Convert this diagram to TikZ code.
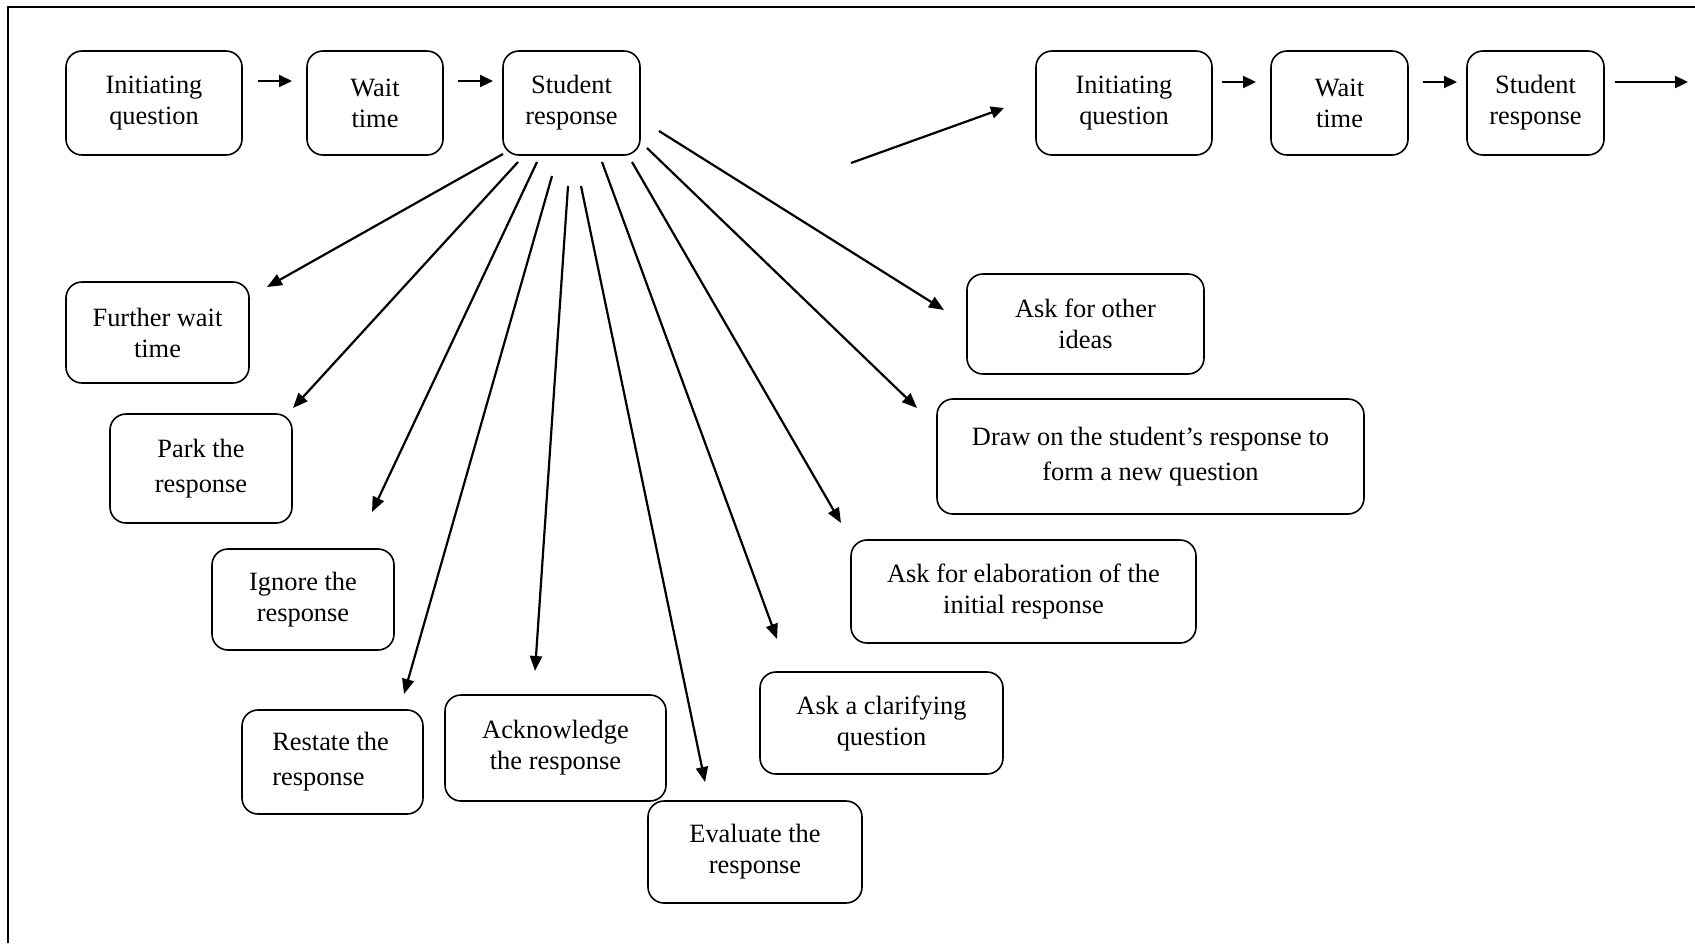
\documentclass[tikz,border=0pt]{standalone}
\usepackage{fontspec}
\setmainfont{Liberation Serif}
\usetikzlibrary{arrows.meta}
\tikzset{
  box/.style={draw, line width=0.8pt, rounded corners=8pt, align=center, inner sep=0pt,
    font=\fontsize{13.2}{15.5}\selectfont},
  flow/.style={line width=1.1pt, -{Triangle[length=6.5pt,width=6pt]}},
  fan/.style={line width=1.1pt, -{Triangle[length=7.5pt,width=6pt]}},
}
\begin{document}
\begin{tikzpicture}[x=0.5pt,y=-0.5pt]
\useasboundingbox (0,0) rectangle (1695,943);
\draw[line width=1pt] (8,943) -- (8,7) -- (1695,7);
% top row
\node[box, minimum width=88pt, minimum height=52pt] (a1) at (154,103) {Initiating\\question};
\node[box, minimum width=68pt, minimum height=52pt] (a2) at (375,103) {Wait\\time};
\node[box, minimum width=68.5pt, minimum height=52pt] (a3) at (571.5,103) {Student\\response};
\node[box, minimum width=88pt, minimum height=52pt] (b1) at (1124,103) {Initiating\\question};
\node[box, minimum width=68.5pt, minimum height=52pt] (b2) at (1339.5,103) {Wait\\time};
\node[box, minimum width=68.5pt, minimum height=52pt] (b3) at (1535.5,103) {Student\\response};
% outcome boxes
\node[box, minimum width=91.5pt, minimum height=50.5pt] (fw) at (157.5,332.5) {Further wait\\time};
\node[box, minimum width=91pt, minimum height=54.5pt] (park) at (201,468.5) {Park the\\[2pt]response};
\node[box, minimum width=91pt, minimum height=50.5pt] (ign) at (303,599.5) {Ignore the\\response};
\node[box, minimum width=90.5pt, minimum height=52pt, align=left] (rest) at (332.5,762) {Restate the\\[2pt]response\hspace*{14pt}};
\node[box, minimum width=110.5pt, minimum height=53pt] (ack) at (555.5,748) {Acknowledge\\the response};
\node[box, minimum width=107pt, minimum height=51pt] (eval) at (755,852) {Evaluate the\\response};
\node[box, minimum width=121.5pt, minimum height=51pt] (clar) at (881.5,723) {Ask a clarifying\\question};
\node[box, minimum width=172.5pt, minimum height=51.5pt] (elab) at (1023.5,591.5) {Ask for elaboration of the\\initial response};
\node[box, minimum width=213.5pt, minimum height=57.5pt] (drawon) at (1150.5,456.5) {Draw on the student’s response to\\[2pt]form a new question};
\node[box, minimum width=118.5pt, minimum height=50pt] (other) at (1085.5,324) {Ask for other\\ideas};
% flow arrows
\coordinate (f1s) at (258,81); \coordinate (f1e) at (292,81);
\coordinate (f2s) at (458,81); \coordinate (f2e) at (493,81);
\coordinate (g1s) at (1222,82); \coordinate (g1e) at (1256,82);
\coordinate (g2s) at (1423,82); \coordinate (g2e) at (1457,82);
\coordinate (g3s) at (1615,82); \coordinate (g3e) at (1688,82);
\coordinate (ds) at (851,163); \coordinate (de) at (1004,108);
\draw[flow] (f1s) -- (f1e);
\draw[flow] (f2s) -- (f2e);
\draw[flow] (g1s) -- (g1e);
\draw[flow] (g2s) -- (g2e);
\draw[flow] (g3s) -- (g3e);
\draw[flow] (ds) -- (de);
% fan arrows
\coordinate (s1) at (503,154);  \coordinate (e1) at (267,287);
\coordinate (s2) at (518,162);  \coordinate (e2) at (293,408);
\coordinate (s3) at (537,162);  \coordinate (e3) at (372,512);
\coordinate (s4) at (552,176);  \coordinate (e4) at (404,694);
\coordinate (s5) at (568,186);  \coordinate (e5) at (535,671);
\coordinate (s6) at (581,186);  \coordinate (e6) at (705,782);
\coordinate (s7) at (602,162);  \coordinate (e7) at (777,639);
\coordinate (s8) at (632,162);  \coordinate (e8) at (841,523);
\coordinate (s9) at (647,148);  \coordinate (e9) at (917,408);
\coordinate (s10) at (659,131); \coordinate (e10) at (944,310);
\foreach \i in {1,...,10} { \draw[fan] (s\i) -- (e\i); }
\end{tikzpicture}
\end{document}
